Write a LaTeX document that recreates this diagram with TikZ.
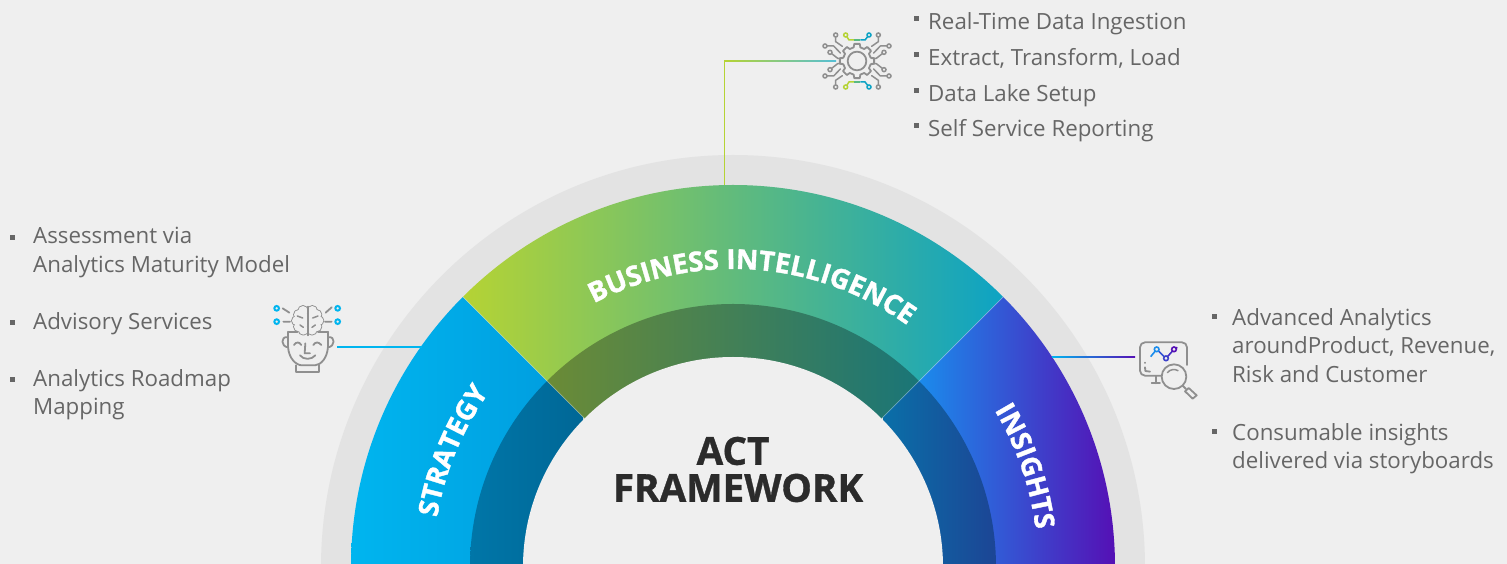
\documentclass[tikz,border=0pt]{standalone}
\usepackage{fontspec}
\setmainfont{Open Sans}
\usetikzlibrary{decorations.text,calc}
\definecolor{bg}{HTML}{EFEFEF}
\definecolor{halo}{HTML}{E3E3E3}
\definecolor{txt}{HTML}{666666}
\definecolor{ico}{HTML}{8F8F8F}
\definecolor{cyanA}{HTML}{00B5EF}
\definecolor{cyanB}{HTML}{009FE0}
\definecolor{limeA}{HTML}{B5D334}
\definecolor{tealA}{HTML}{0DA3C4}
\definecolor{purpA}{HTML}{5510B5}
\definecolor{blueA}{HTML}{1A8CEC}
\definecolor{darkA}{HTML}{0076A8}
\definecolor{darkB}{HTML}{006796}
\definecolor{darkC}{HTML}{6B8B36}
\definecolor{darkD}{HTML}{3E7F57}
\definecolor{darkE}{HTML}{1A7577}
\definecolor{darkF}{HTML}{0A6FA8}
\definecolor{darkG}{HTML}{1C4595}
\newcommand{\heavyfont}[2]{\fontsize{#1}{#1}\selectfont\bfseries\addfontfeature{FakeBold=#2}}
\tikzset{
 bodytext/.style={font=\fontsize{22.3}{28.5}\selectfont,text=txt,inner sep=0pt,anchor=north west,align=left},
 bulletmark/.style={fill=txt,minimum size=5pt,inner sep=0pt,draw=none,rectangle},
 icon/.style={draw=ico,line width=1.8pt,line join=round,line cap=round},
 thinicon/.style={icon,line width=1.5pt},
 pad/.style={draw=ico,fill=bg,line width=1.5pt},
 title/.style={font=\heavyfont{38.6}{0.9},text=black!83,inner sep=0pt,align=center},
}
\begin{document}
\begin{tikzpicture}[x=1pt,y=1pt]
\useasboundingbox (0,0) rectangle (1507,564);
\fill[bg] (0,0) rectangle (1507,564);
\begin{scope}
\clip (0,0) rectangle (1507,564);
\begin{scope}[shift={(733,-3)}]
\fill[halo] (0,0) circle[radius=412];
% outer sectors
\begin{scope}
\clip (0,0) -- (135:400) arc[start angle=135,end angle=180,radius=400] -- cycle;
\clip (0,0) circle[radius=382];
\shade[left color=cyanA,middle color=cyanA,right color=cyanB] (-382,0) rectangle (-185,300);
\end{scope}
\begin{scope}
\clip (0,0) -- (135:600) -- (45:600) -- cycle;
\clip (0,0) circle[radius=382];
\shade[left color=limeA,middle color=limeA!30!tealA!70!green,right color=tealA] (-270,100) rectangle (270,400);
\end{scope}
\begin{scope}
\clip (0,0) -- (45:400) arc[start angle=45,end angle=0,radius=400] -- cycle;
\clip (0,0) circle[radius=382];
\shade[left color=blueA,right color=purpA] (185,0) rectangle (382,300);
\end{scope}
% inner darker band
\begin{scope}
\clip (0,0) -- (135:400) arc[start angle=135,end angle=180,radius=400] -- cycle;
\clip (0,0) circle[radius=263];
\shade[left color=darkA,right color=darkB] (-263,0) rectangle (-150,300);
\end{scope}
\begin{scope}
\clip (0,0) -- (135:600) -- (45:600) -- cycle;
\clip (0,0) circle[radius=263];
\shade[left color=darkC,middle color=darkD,right color=darkE] (-186,100) rectangle (186,300);
\end{scope}
\begin{scope}
\clip (0,0) -- (45:400) arc[start angle=45,end angle=0,radius=400] -- cycle;
\clip (0,0) circle[radius=263];
\shade[left color=darkF,right color=darkG] (150,0) rectangle (263,300);
\end{scope}
\fill[bg] (0,0) circle[radius=210];
\draw[white,opacity=.35,line width=.7pt] (135:210) -- (135:382) (45:210) -- (45:382);
% curved labels
\path[decorate,decoration={text along path,text align=center,
  text={|\heavyfont{27.4}{1.3}\color{white}|BUSINESS INTELLIGENCE}}]
  (146:298) arc[start angle=146,end angle=26,radius=298];
\path[decorate,decoration={text along path,text align=center,
  text={|\heavyfont{27.4}{1.3}\color{white}|STRATEGY}}]
  (197:300) arc[start angle=197,end angle=118,radius=300];
\path[decorate,decoration={text along path,text align=center,
  text={|\heavyfont{27.4}{1.3}\color{white}|INSIGHTS}}]
  (59:305) arc[start angle=59,end angle=-21,radius=305];
\end{scope}
\end{scope}

% everything below is in pixel coordinates, y downwards
\begin{scope}[shift={(0,564)},y=-1pt]
\node[title] (actA) at (733,451) {ACT};
\node[title] (actB) at (738,488) {FRAMEWORK};

% top list
\foreach \nm/\yy/\tx in {a/12/Real-Time Data Ingestion,b/48/{Extract, Transform, Load},c/84/Data Lake Setup,d/119/Self Service Reporting}{
  \node[bodytext] (top\nm) at (928,\yy) {\tx};
  \node[bulletmark] (btop\nm) at (916.5,\yy+7) {};
}
% left list
\node[bodytext] (la) at (33,227) {Assessment via\\Analytics Maturity Model};
\node[bodytext] (lb) at (33,312) {Advisory Services};
\node[bodytext] (lc) at (33,369) {Analytics Roadmap\\Mapping};
\node[bulletmark] (bla) at (12,238) {};
\node[bulletmark] (blb) at (12,323) {};
\node[bulletmark] (blc) at (12,380) {};
% right list
\node[bodytext] (ra) at (1232,308) {Advanced Analytics\\aroundProduct, Revenue,\\Risk and Customer};
\node[bodytext] (rb) at (1232,423) {Consumable insights\\delivered via storyboards};
\node[bulletmark] (bra) at (1214,317) {};
\node[bulletmark] (brb) at (1214,432) {};

% connectors
\coordinate (biS) at (724.5,185);
\coordinate (biC) at (724.5,61);
\coordinate (biE) at (836,61);
\coordinate (stE) at (337,347);
\coordinate (stS) at (422,347);
\coordinate (inS) at (1052,357);
\coordinate (inE) at (1135,357);
\draw[line width=1.3pt,limeA] (biS) |- (biC) -- ($(biC)!.3!(biE)$);
\shade[left color=limeA,right color=tealA!70] ($(biC)+(0,-.65)$) rectangle ($(biE)+(0,.65)$);
\draw[line width=1.4pt,cyanA] (stE) -- (stS);
\shade[left color=cyanA,right color=purpA] ($(inS)+(0,-.75)$) rectangle ($(inE)+(0,.75)$);

% gear icon
\begin{scope}[shift={(857,61)},scale=1/3]
\draw[icon] (-14:42) \foreach \a in {0,45,...,315}{ -- (\a-14:42) -- (\a-9:52) -- (\a+9:52) -- (\a+14:42)} -- cycle;
\draw[icon] (0,0) circle[radius=28];
\foreach \sx/\sy in {1/1,-1/1,1/-1,-1/-1}{
 \begin{scope}[xscale=\sx,yscale=\sy]
  \draw[thinicon] (-64,-78) -- (-64,-58) -- (-44,-44);
  \draw[thinicon] (-96,-45) -- (-70,-45) -- (-50,-24);
  \draw[thinicon] (-81,-26) -- (-58,-8) -- (-44,-8);
  \filldraw[pad] (-64,-78) circle[radius=6];
  \filldraw[pad] (-96,-45) circle[radius=6];
  \filldraw[pad] (-81,-26) circle[radius=6];
 \end{scope}
}
\foreach \yy/\yz in {-78/-63,78/63}{
 \draw[line width=1.5pt,limeA] (-34,\yy) -- (-24,\yz) -- (-8,\yz);
 \draw[line width=1.5pt,limeA!45!tealA] (-8,\yz) -- (10,\yz);
 \draw[line width=1.5pt,tealA] (10,\yz) -- (24,\yz) -- (36,\yy);
 \filldraw[draw=limeA,fill=bg,line width=1.5pt] (-34,\yy) circle[radius=6];
 \filldraw[draw=tealA,fill=bg,line width=1.5pt] (36,\yy) circle[radius=6];
}
\end{scope}

% head icon
\begin{scope}[shift={(260,290)},scale=1/3]
% brain: a cloud of lobes, outlined first, hollowed after
\foreach \dx/\dy/\rr in {-14/62/14,-27/74/14,-34/92/13,-27/110/14,-13/120/14,14/62/14,27/74/14,34/92/13,27/110/14,13/120/14}{
  \draw[icon] (143+\dx,\dy) circle[radius=\rr];
}
\foreach \dx/\dy/\rr in {-14/62/14,-27/74/14,-34/92/13,-27/110/14,-13/120/14,14/62/14,27/74/14,34/92/13,27/110/14,13/120/14,-12/90/22,12/90/22}{
  \fill[bg] (143+\dx,\dy) circle[radius=\rr];
}
\draw[icon] (143,50) -- (143,136);
\draw[thinicon] (112,78) -- (128,84) (120,105) -- (130,112) (174,78) -- (158,84) (166,105) -- (156,112);
\draw[icon] (85,125) -- (112,125) (174,125) -- (204,125);
\draw[icon] (84,125) -- (84,170) .. controls (86,205) and (108,225) .. (125,226) -- (165,226) .. controls (182,225) and (202,205) .. (204,170) -- (204,125);
\draw[icon] (82,142) .. controls (62,138) and (62,170) .. (84,172);
\draw[icon] (206,142) .. controls (226,138) and (226,170) .. (204,172);
\draw[icon] (108,226) -- (108,245) -- (178,245) -- (178,226);
\draw[icon] (102,165) .. controls (108,155) and (118,155) .. (124,165);
\draw[icon] (160,165) .. controls (166,155) and (176,155) .. (184,165);
\draw[icon] (136,160) -- (134,190) -- (150,190);
\draw[icon] (120,196) .. controls (130,210) and (155,210) .. (166,196);
\draw[icon] (68,55) -- (88,68) (70,95) -- (90,95) (197,68) -- (215,52) (195,95) -- (215,95);
\foreach \cx/\cy in {50/55,50/95,233/55,233/95}{
 \filldraw[draw=cyanA,fill=bg,line width=2pt] (\cx,\cy) circle[radius=7];
}
\end{scope}

% insights icon
\begin{scope}[shift={(1040,320)},scale=1/3]
\draw[icon,rounded corners=5pt] (365,167) -- (300,167) -- (300,67) -- (441,67) -- (441,135);
\draw[icon] (347,168) -- (347,190) (335,190) -- (360,190);
\draw[icon] (402,170) circle[radius=37];
\draw[thinicon] (382,158) .. controls (390,148) and (404,146) .. (414,152);
\draw[icon] (428,197) -- (438,207);
\draw[icon] (446,204) -- (470,226) -- (458,236) -- (435,214) -- cycle;
\draw[icon] (315,128) -- (315,129);
\draw[icon] (315,142) -- (316,153) -- (330,155);
\draw[line width=1.6pt,blueA] (332,110) -- (350,88);
\draw[line width=1.6pt,blueA!55!purpA] (350,88) -- (378,115);
\draw[line width=1.6pt,blueA!25!purpA] (378,115) -- (402,88);
\draw[line width=1.6pt,purpA] (402,88) -- (412,82);
\filldraw[draw=blueA,fill=bg,line width=1.6pt] (350,88) circle[radius=7];
\filldraw[draw=blueA!40!purpA,fill=bg,line width=1.6pt] (378,115) circle[radius=7];
\filldraw[draw=purpA,fill=bg,line width=1.6pt] (402,88) circle[radius=7];
\end{scope}
\end{scope}
\end{tikzpicture}
\end{document}
